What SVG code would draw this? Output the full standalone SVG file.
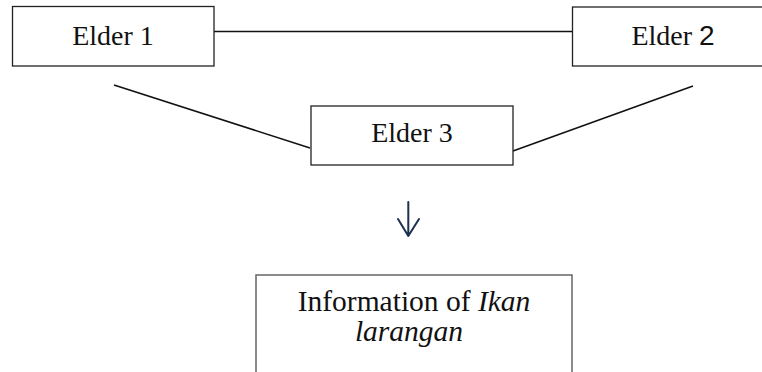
<svg xmlns="http://www.w3.org/2000/svg" width="762" height="372" viewBox="0 0 762 372">
<style>
.box{fill:#fff;stroke:#222;stroke-width:1.3}
.box2{fill:#fff;stroke:#666;stroke-width:1.5}
.lbl{font-family:"Liberation Serif","Times New Roman",serif;font-size:28px;fill:#111;text-anchor:middle}
.big{font-size:29.5px}
.con{stroke:#111;stroke-width:1.6;fill:none}
.arr{stroke:#1c3150;stroke-width:2;fill:none;stroke-linecap:round;stroke-linejoin:round}
</style>
<rect width="762" height="372" fill="#fff"/>
<g id="connectors">
<line class="con" x1="214" y1="31.5" x2="572" y2="31.5"/>
<line class="con" x1="114" y1="85" x2="310" y2="148"/>
<line class="con" x1="513" y1="151" x2="693" y2="86"/>
<path class="arr" d="M408.3 202 V236 M398 219 L408.3 236 L419 219"/>
</g>
<g id="elder1">
<rect class="box" x="12.5" y="6.5" width="201.5" height="59.5"/>
<text class="lbl" x="113" y="45">Elder 1</text>
</g>
<g id="elder2">
<rect class="box" x="572.5" y="7" width="200" height="59"/>
<text class="lbl" x="673" y="45">Elder <tspan font-family="'Liberation Sans','Open Sans',sans-serif">2</tspan></text>
</g>
<g id="elder3">
<rect class="box" x="311" y="106" width="202" height="59"/>
<text class="lbl" x="412" y="142">Elder 3</text>
</g>
<g id="info">
<rect class="box2" x="256" y="275" width="316" height="120"/>
<text class="lbl big" x="414" y="311">Information of <tspan font-style="italic">Ikan</tspan></text>
<text class="lbl big" x="409" y="341" font-style="italic">larangan</text>
</g>
</svg>
